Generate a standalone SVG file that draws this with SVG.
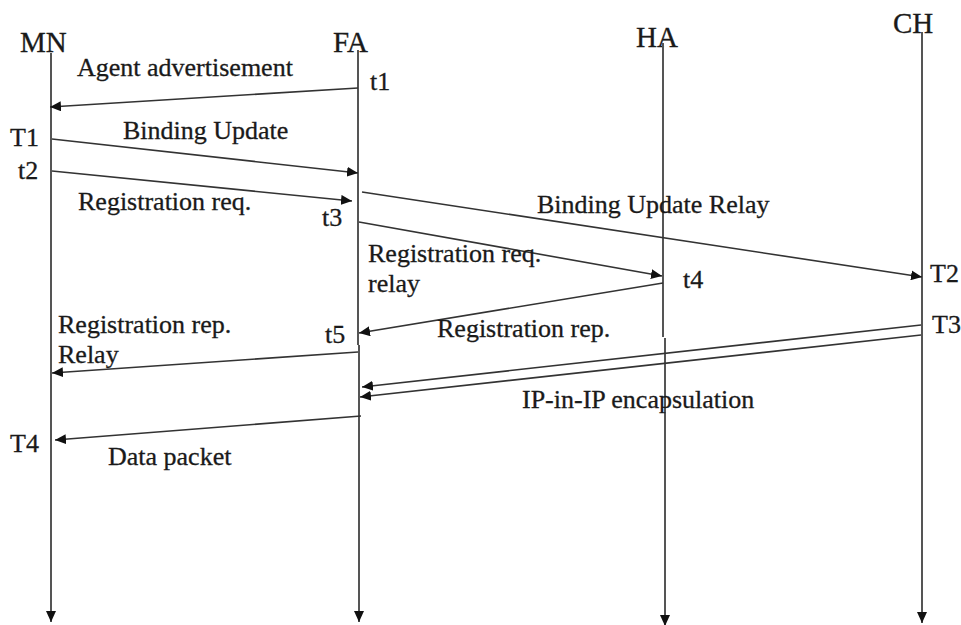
<svg xmlns="http://www.w3.org/2000/svg" width="961" height="625" viewBox="0 0 961 625">
  <style>
    .head { font-family: "Liberation Serif", "Times New Roman", serif; font-size: 29px; fill: #1a1a1a; stroke: #1a1a1a; stroke-width: 0.3; }
    .lbl { font-family: "Liberation Serif", "Times New Roman", serif; font-size: 26px; fill: #1a1a1a; stroke: #1a1a1a; stroke-width: 0.3; }
    .life { stroke: #555; stroke-width: 2; fill: none; }
    .msg { stroke: #333; stroke-width: 1.6; fill: none; marker-end: url(#arrow); }
  </style>
  <defs>
    <marker id="arrow" markerUnits="userSpaceOnUse" markerWidth="12" markerHeight="10" refX="11" refY="5" orient="auto">
      <path d="M0,0 L11,5 L0,10 z" fill="#111"/>
    </marker>
  </defs>
  <rect width="961" height="625" fill="#fff"/>

  <!-- Lifelines -->
  <g id="mn">
    <text class="head" x="20" y="52">MN</text>
    <line class="life" x1="51" y1="53" x2="51" y2="622" marker-end="url(#arrow)"/>
  </g>
  <g id="fa">
    <text class="head" x="333" y="52">FA</text>
    <line class="life" x1="358" y1="50" x2="358" y2="345"/>
    <line class="life" x1="359" y1="345" x2="359" y2="622" stroke-width="1.6" marker-end="url(#arrow)"/>
  </g>
  <g id="ha">
    <text class="head" x="636" y="47">HA</text>
    <line class="life" x1="663" y1="43" x2="663" y2="337"/>
    <line class="life" x1="665" y1="338" x2="665" y2="626" marker-end="url(#arrow)"/>
  </g>
  <g id="ch">
    <text class="head" x="893" y="33">CH</text>
    <line class="life" x1="922" y1="32" x2="922" y2="623" marker-end="url(#arrow)"/>
  </g>

  <!-- Messages -->
  <g id="connectors">
    <line class="msg" x1="358" y1="88" x2="50" y2="107"/>
    <line class="msg" x1="52" y1="139" x2="358" y2="173"/>
    <line class="msg" x1="52" y1="171" x2="352" y2="201"/>
    <line class="msg" x1="362" y1="192" x2="922" y2="277"/>
    <line class="msg" x1="359" y1="222" x2="662" y2="276"/>
    <line class="msg" x1="663" y1="283" x2="359" y2="333"/>
    <line class="msg" x1="358" y1="352" x2="52" y2="373"/>
    <line class="msg" x1="921" y1="325" x2="362" y2="387"/>
    <line class="msg" x1="921" y1="335" x2="360" y2="397"/>
    <line class="msg" x1="361" y1="416" x2="55" y2="440"/>
  </g>

  <!-- Message labels -->
  <g id="labels">
    <text class="lbl" x="77" y="76">Agent advertisement</text>
    <text class="lbl" x="123" y="139">Binding Update</text>
    <text class="lbl" x="78" y="210">Registration req.</text>
    <text class="lbl" x="537" y="213">Binding Update Relay</text>
    <text class="lbl" x="368" y="262">Registration req.</text>
    <text class="lbl" x="368" y="292">relay</text>
    <text class="lbl" x="437" y="337">Registration rep.</text>
    <text class="lbl" x="58" y="333">Registration rep.</text>
    <text class="lbl" x="58" y="363">Relay</text>
    <text class="lbl" x="522" y="408">IP-in-IP encapsulation</text>
    <text class="lbl" x="108" y="465">Data packet</text>
  </g>

  <!-- Time marks -->
  <g id="times">
    <text class="lbl" x="370" y="90">t1</text>
    <text class="lbl" x="10" y="146">T1</text>
    <text class="lbl" x="18" y="179">t2</text>
    <text class="lbl" x="322" y="226">t3</text>
    <text class="lbl" x="683" y="288">t4</text>
    <text class="lbl" x="930" y="282">T2</text>
    <text class="lbl" x="325" y="343">t5</text>
    <text class="lbl" x="932" y="333">T3</text>
    <text class="lbl" x="10" y="452">T4</text>
  </g>
</svg>
